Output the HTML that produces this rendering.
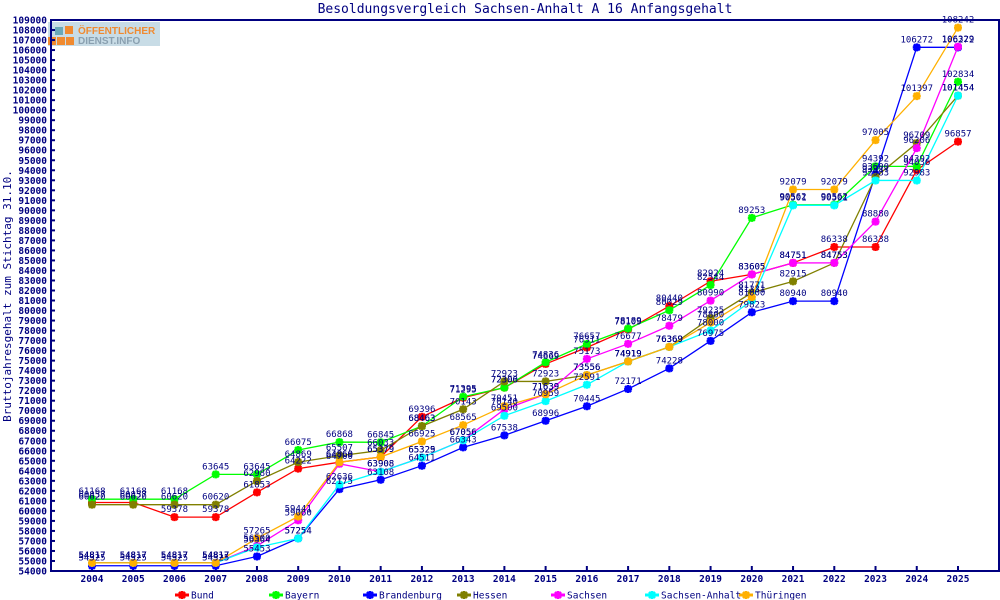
<!DOCTYPE html>
<html><head><meta charset="utf-8"><style>
body{margin:0;background:#fff;}
svg{display:block;font-family:"DejaVu Sans Mono","Liberation Mono",monospace;}
</style></head><body>
<svg id="chart" width="1000" height="600">
<rect x="0" y="0" width="1000" height="600" fill="#fff"/>
<text x="525" y="13" text-anchor="middle" font-size="13" fill="#000080">Besoldungsvergleich Sachsen-Anhalt A 16 Anfangsgehalt</text>
<text transform="translate(11,296) rotate(-90)" text-anchor="middle" font-size="11" fill="#000080">Bruttojahresgehalt zum Stichtag 31.10.</text>
<g>
<rect x="48" y="22" width="112" height="24" fill="#c8dce6"/>
<rect x="55" y="27" width="8" height="8" fill="#6aa8b8"/><rect x="65" y="26" width="8" height="8" fill="#f08a30"/>
<rect x="48" y="37" width="8" height="8" fill="#f08a30"/><rect x="57" y="37" width="8" height="8" fill="#f08a30"/><rect x="66" y="37" width="8" height="8" fill="#f08a30"/>
<text x="78" y="34" font-size="10" font-weight="bold" fill="#f08a30" font-family="Liberation Sans, sans-serif">ÖFFENTLICHER</text>
<text x="78" y="44" font-size="10" font-weight="bold" fill="#8aa0b0" font-family="Liberation Sans, sans-serif">DIENST.INFO</text>
</g>
<g id="axes"></g>
<g id="series"></g>
<g id="legend"></g>
</svg>
<script>
const years=[2004,2005,2006,2007,2008,2009,2010,2011,2012,2013,2014,2015,2016,2017,2018,2019,2020,2021,2022,2023,2024,2025];
const seriesNames=["Bund","Bayern","Brandenburg","Hessen","Sachsen","Sachsen-Anhalt","Thüringen"];
const seriesColors=["#ff0000","#00ff00","#0000ff","#808000","#ff00ff","#00ffff","#ffb000"];
const bund=[60837,60837,59378,59378,61853,64222,64860,65379,69396,71295,72300,74669,76311,78109,80440,82924,83605,84751,86338,86338,94036,96857];
const bayern=[61168,61168,61168,63645,63645,66075,66868,66845,68463,71395,72306,74836,76657,78189,80029,82544,89253,90562,90562,94392,94392,102834];
const brandenburg=[54525,54525,54525,54525,55453,57254,62175,63108,64511,66343,67538,68996,70445,72171,74228,76975,79823,80940,80940,93600,106272,106272];
const hessen=[60620,60620,60620,60620,62980,64869,65507,66033,68463,70143,72923,72923,73556,74919,76369,79235,81771,82915,84753,93317,96709,101454];
const sachsen=[54817,54817,54817,54817,56500,59060,64700,63908,65329,67056,70140,71639,75173,76677,78479,80990,83605,84751,84753,88880,96206,106329];
const sachsenAnhalt=[54817,54817,54817,54817,56364,57254,62636,63908,65325,67056,69500,70959,72591,74919,76369,78000,81000,90501,90501,92983,92983,101454];
const thueringen=[54817,54817,54817,54817,57265,59441,64860,65379,66925,68565,70451,71639,73556,74919,76369,78800,81331,92079,92079,97005,101397,108242];
const allSeries=[bund,bayern,brandenburg,hessen,sachsen,sachsenAnhalt,thueringen];
const yMin=54000,yMax=109000,yStep=1000;
const L=51,R=999,T=20,B=571,X0=92,X1=958;
const NS="http://www.w3.org/2000/svg";
function xs(i){return X0+(X1-X0)*i/(years.length-1);}
function ys(v){return B-(v-yMin)/(yMax-yMin)*(B-T);}
function mk(tag,attrs,parent,text){const e=document.createElementNS(NS,tag);for(const k in attrs)e.setAttribute(k,attrs[k]);if(text!==undefined)e.textContent=text;parent.appendChild(e);return e;}
const ax=document.getElementById('axes');
const frame=mk('rect',{x:L,y:T,width:R-L,height:B-T,fill:'none',stroke:'#000080','stroke-width':2},ax);


for(let v=yMin;v<=yMax;v+=yStep){
 const y=ys(v);
 const t=mk('line',{x1:L,x2:L+4,y1:y,y2:y,stroke:'#000080','stroke-width':2},ax);
 
 
 const lb=mk('text',{x:L-4,y:y+3.5,'text-anchor':'end','font-size':9.5,'font-weight':'bold',fill:'#000080'},ax,String(v));
 
 
}
years.forEach((yr,i)=>{
 const x=xs(i);
 const t=mk('line',{x1:x,x2:x,y1:B-5,y2:B,stroke:'#000080','stroke-width':2},ax);
 
 
 const lb=mk('text',{x:x,y:B+11,'text-anchor':'middle','font-size':9.5,'font-weight':'bold',fill:'#000080'},ax,String(yr));
 
 
});
const sg=document.getElementById('series');
function marker(g,x,y,c){
 const m=mk('path',{d:`M${x-4},${y}H${x+4}M${x},${y-4}V${y+4}M${x-3},${y-3}L${x+3},${y+3}M${x-3},${y+3}L${x+3},${y-3}`,stroke:c,'stroke-width':2.5},g);
 
 
 mk('circle',{cx:x,cy:y,r:3,fill:c},g);
}
allSeries.forEach((data,s)=>{
 const g=mk('g',{},sg);
 
 
 const pts=data.map((v,i)=>xs(i)+','+ys(v)).join(' ');
 const pl=mk('polyline',{points:pts,fill:'none',stroke:seriesColors[s],'stroke-width':1.3},g);
 
 
 data.forEach((v,i)=>marker(g,xs(i),ys(v),seriesColors[s]));
});
allSeries.forEach((data,s)=>{
 data.forEach((v,i)=>{
  const t=mk('text',{x:xs(i),y:ys(v)-5,'text-anchor':'middle','font-size':9,fill:'#000080'},sg,String(v));
  
  
 });
});
const lg=document.getElementById('legend');
seriesNames.forEach((n,s)=>{
 const x=175+s*94,y=595;
 const g=mk('g',{},lg);
 
 
 mk('line',{x1:x,x2:x+14,y1:y,y2:y,stroke:seriesColors[s],'stroke-width':3},g);
 marker(g,x+7,y,seriesColors[s]);
 mk('text',{x:x+16,y:y+3.5,'font-size':9.5,fill:'#000080'},g,n);
});
</script>
</body></html>
